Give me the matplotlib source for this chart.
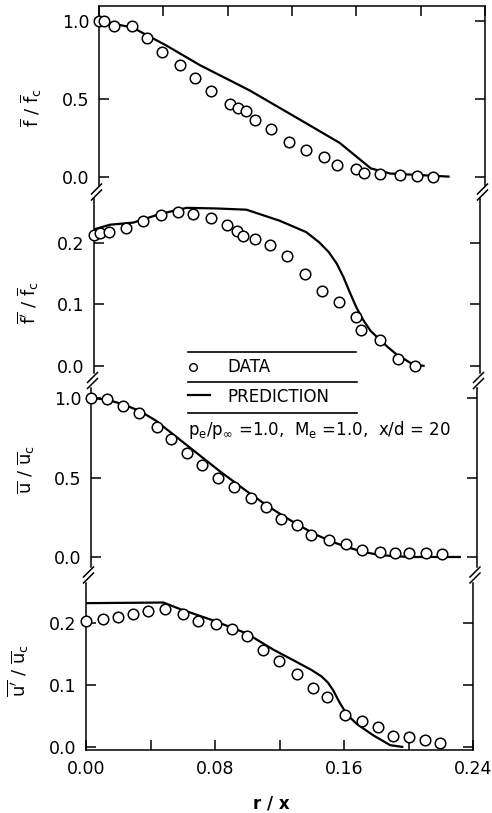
import matplotlib
matplotlib.use("Agg")
import matplotlib.pyplot as plt
from matplotlib.lines import Line2D

# ---------------- data ----------------
# panel 1 : mean mixture fraction  f / fc
f_data_x = [0.0, 0.003, 0.0093, 0.0205, 0.0298, 0.0391, 0.0503, 0.0596, 0.0696, 0.0814,
            0.0863, 0.0913, 0.0969, 0.107, 0.118, 0.129, 0.140, 0.148, 0.160, 0.165,
            0.1745, 0.187, 0.1975, 0.2075]
f_data_y = [1.0, 1.0, 0.967, 0.965, 0.887, 0.80, 0.718, 0.63, 0.548, 0.466,
            0.44, 0.423, 0.366, 0.304, 0.222, 0.172, 0.123, 0.073, 0.049, 0.024,
            0.02, 0.009, 0.004, 0.0]
f_pred_x = [0.0, 0.021, 0.042, 0.0627, 0.0938, 0.129, 0.1497, 0.169, 0.181, 0.218]
f_pred_y = [1.0, 0.955, 0.84, 0.715, 0.552, 0.341, 0.216, 0.053, 0.02, 0.0]

# panel 2 : rms mixture fraction  f' / fc
fr_data_x = [0.0, 0.0037, 0.0095, 0.0199, 0.0306, 0.0414, 0.0524, 0.0617, 0.0727, 0.083,
             0.089, 0.0927, 0.100, 0.1093, 0.1197, 0.131, 0.142, 0.1524, 0.163, 0.166,
             0.1776, 0.189, 0.1994]
fr_data_y = [0.213, 0.216, 0.217, 0.2245, 0.2357, 0.2458, 0.250, 0.2465, 0.241, 0.229,
             0.220, 0.211, 0.207, 0.197, 0.178, 0.149, 0.122, 0.104, 0.080, 0.059,
             0.042, 0.011, 0.0]
fr_pred_x = [0.0, 0.010, 0.0244, 0.041, 0.0576, 0.0762, 0.0948, 0.1155, 0.132, 0.140,
             0.146, 0.151, 0.155, 0.159, 0.163, 0.1673, 0.172, 0.1776, 0.183, 0.188,
             0.198, 0.2056]
fr_pred_y = [0.222, 0.2296, 0.233, 0.247, 0.257, 0.256, 0.254, 0.236, 0.2175, 0.201,
             0.185, 0.166, 0.145, 0.120, 0.096, 0.075, 0.057, 0.043, 0.030, 0.019,
             0.003, 0.0]

# panel 3 : mean velocity  u / uc
u_data_x = [0.0, 0.0098, 0.0197, 0.030, 0.0408, 0.0495, 0.0594, 0.0688, 0.079, 0.0888,
            0.0992, 0.1087, 0.1184, 0.1278, 0.137, 0.148, 0.1588, 0.1688, 0.1795, 0.1888,
            0.198, 0.2085, 0.218]
u_data_y = [1.0, 0.993, 0.948, 0.904, 0.82, 0.744, 0.651, 0.579, 0.497, 0.44,
            0.368, 0.313, 0.241, 0.20, 0.139, 0.109, 0.08, 0.045, 0.03, 0.028,
            0.023, 0.025, 0.02]
u_pred_x = [0.0, 0.01, 0.02, 0.03, 0.04, 0.05, 0.06, 0.07, 0.08, 0.09, 0.10, 0.11,
            0.12, 0.13, 0.14, 0.15, 0.16, 0.17, 0.18, 0.19, 0.20, 0.23]
u_pred_y = [1.0, 0.99, 0.96, 0.92, 0.86, 0.78, 0.70, 0.62, 0.54, 0.465, 0.39, 0.32,
            0.255, 0.195, 0.14, 0.095, 0.06, 0.03, 0.012, 0.004, 0.0, 0.0]

# panel 4 : rms velocity  u' / uc
ur_data_x = [0.0, 0.0104, 0.020, 0.0293, 0.0386, 0.049, 0.060, 0.0697, 0.0806, 0.0904,
             0.0996, 0.1096, 0.1197, 0.1307, 0.1406, 0.1497, 0.1607, 0.171, 0.1813, 0.1906,
             0.200, 0.210, 0.2196]
ur_data_y = [0.203, 0.207, 0.210, 0.215, 0.219, 0.223, 0.2145, 0.204, 0.198, 0.190,
             0.179, 0.156, 0.139, 0.1185, 0.0946, 0.081, 0.0516, 0.0417, 0.0323, 0.018,
             0.0155, 0.0116, 0.0064]
ur_pred_x = [0.0, 0.048, 0.0583, 0.079, 0.0997, 0.1162, 0.1300, 0.140, 0.146, 0.150,
             0.1534, 0.157, 0.1605, 0.164, 0.168, 0.1782, 0.1886, 0.1968]
ur_pred_y = [0.232, 0.233, 0.2225, 0.204, 0.183, 0.157, 0.138, 0.124, 0.114, 0.104,
             0.091, 0.073, 0.058, 0.047, 0.037, 0.0188, 0.003, 0.0]

x_ticks = [0.0, 0.04, 0.08, 0.12, 0.16, 0.20, 0.24]
x_ticklabels = ["0.00", "", "0.08", "", "0.16", "", "0.24"]
y_ticks_mean = [0.0, 0.5, 1.0]
y_ticks_rms = [0.0, 0.1, 0.2]

y_labels = [r"$\overline{\mathrm{f}}\ /\ \overline{\mathrm{f}}_\mathrm{c}$",
            r"$\overline{\mathrm{f}'}\ /\ \overline{\mathrm{f}}_\mathrm{c}$",
            r"$\overline{\mathrm{u}}\ /\ \overline{\mathrm{u}}_\mathrm{c}$",
            r"$\overline{\mathrm{u}'}\ /\ \overline{\mathrm{u}}_\mathrm{c}$"]

# ---------------- layout ----------------
W, H = 492, 813
fig = plt.figure(figsize=(W / 100, H / 100), dpi=100)

# (x_left, x_right, y_top, y_bottom) in pixels, ylim
panels = [
    dict(px=(99, 485, 6, 186), ylim=(-0.06, 1.094), yt=y_ticks_mean,
         d=(f_data_x, f_data_y), p=(f_pred_x, f_pred_y), lab=(31, 108)),
    dict(px=(94, 480, 198, 373), ylim=(-0.0114, 0.273), yt=y_ticks_rms,
         d=(fr_data_x, fr_data_y), p=(fr_pred_x, fr_pred_y), lab=(28, 303)),
    dict(px=(91, 477, 388, 567), ylim=(-0.063, 1.063), yt=y_ticks_mean,
         d=(u_data_x, u_data_y), p=(u_pred_x, u_pred_y), lab=(26, 470)),
    dict(px=(86, 473, 583, 750), ylim=(-0.0048, 0.2645), yt=y_ticks_rms,
         d=(ur_data_x, ur_data_y), p=(ur_pred_x, ur_pred_y), lab=(18, 670)),
]

lw = 1.1
axes = []
for i, pn in enumerate(panels):
    x0, x1, yt, yb = pn["px"]
    ax = fig.add_axes([x0 / W, 1 - yb / H, (x1 - x0) / W, (yb - yt) / H])
    ax.set_xlim(0, 0.24)
    ax.set_ylim(*pn["ylim"])
    ax.plot(pn["p"][0], pn["p"][1], color="black", lw=1.6, zorder=2,
            solid_capstyle="butt", solid_joinstyle="round")
    ax.plot(pn["d"][0], pn["d"][1], "o", ms=7.6, mfc="white", mec="black",
            mew=1.1, zorder=3, clip_on=False)
    for s in ax.spines.values():
        s.set_linewidth(lw)
    ax.spines["top"].set_visible(i == 0)
    ax.spines["bottom"].set_visible(i == 3)
    ax.set_yticks(pn["yt"])
    ax.set_yticklabels(["%.1f" % v for v in pn["yt"]])
    ax.tick_params(axis="y", direction="in", left=True, right=True, length=7,
                   width=lw, labelsize=12.5, pad=7)
    ax.set_xticks(x_ticks)
    if i == 3:
        ax.set_xticklabels(x_ticklabels)
        ax.tick_params(axis="x", direction="in", bottom=True, top=False, length=7,
                       width=lw, labelsize=12.5, pad=7)
    elif i == 0:
        ax.tick_params(axis="x", direction="in", bottom=False, top=True, length=7,
                       width=lw, labelbottom=False)
    else:
        ax.tick_params(axis="x", bottom=False, top=False, labelbottom=False)
    fig.text(pn["lab"][0] / W, 1 - pn["lab"][1] / H, y_labels[i], rotation=90,
             ha="center", va="center", fontsize=13)
    axes.append(ax)

fig.text(271 / W, 1 - 803 / H, "r / x", ha="center", va="center", fontsize=12,
         fontweight="bold")


def fline(xs, ys, **kw):
    fig.add_artist(Line2D([x / W for x in xs], [1 - y / H for y in ys],
                          transform=fig.transFigure, color="black", **kw))


# axis break marks
for i in range(3):
    a, b = panels[i]["px"], panels[i + 1]["px"]
    yc = (a[3] + b[2]) / 2
    for xc in ((a[0] + b[0]) / 2, (a[1] + b[1]) / 2):
        for off in (-3, 3):
            fline([xc - 5, xc + 5], [yc + 5 + off, yc - 5 + off], lw=1.1)

# legend box
fline([188, 356], [352, 352], lw=1.2)
fline([188, 357], [382, 382], lw=1.2)
fline([188, 357], [413, 413], lw=1.2)
fig.add_artist(Line2D([193 / W], [1 - 367 / H], transform=fig.transFigure,
                      marker="o", ms=5.5, mfc="white", mec="black", mew=1.0,
                      linestyle="none"))
fig.text(227 / W, 1 - 367 / H, "DATA", ha="left", va="center", fontsize=12)
fline([188, 210], [395, 395], lw=1.6)
fig.text(227 / W, 1 - 397 / H, "PREDICTION", ha="left", va="center", fontsize=12)
fig.text(188 / W, 1 - 430 / H,
         r"$\mathrm{p_e/p_\infty}$ =1.0,  M$_\mathrm{e}$ =1.0,  x/d = 20",
         ha="left", va="center", fontsize=12)

fig.savefig("out.png", dpi=100)
